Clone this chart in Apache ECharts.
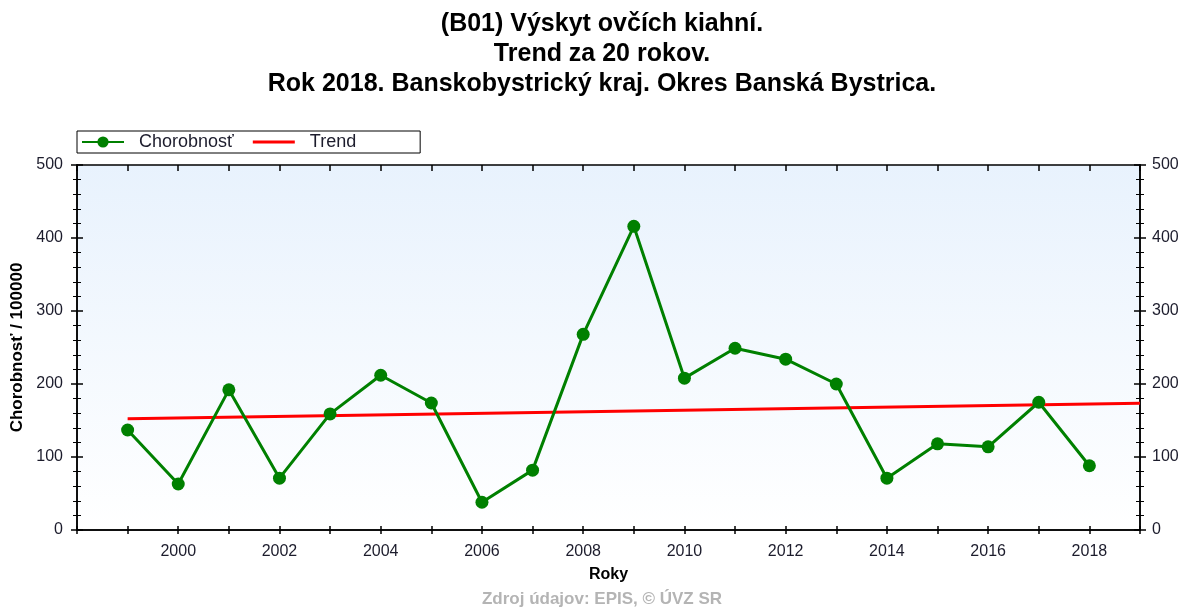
<!DOCTYPE html>
<html>
<head>
<meta charset="utf-8">
<script src="https://cdn.jsdelivr.net/npm/echarts@6/dist/echarts.min.js"></script>
<style>
  html, body { margin: 0; padding: 0; background: #fff; }
  #chart { width: 1182px; height: 609px; }
</style>
</head>
<body>
<div id="chart"></div>
<script>
const years = [1999, 2000, 2001, 2002, 2003, 2004, 2005, 2006, 2007, 2008,
  2009, 2010, 2011, 2012, 2013, 2014, 2015, 2016, 2017, 2018];
const chorobnost = [137, 63, 192, 71, 159, 212, 174, 38, 82, 268,
  416, 208, 249, 234, 200, 71, 118, 114, 175, 88];
// trend line (start and end)
const trendYears = [1999, 2019];
const trendValues = [152.5, 173.5];
const yTicks = [0, 100, 200, 300, 400, 500];

const font = 'Liberation Sans';
const labelColor = '#1c1c2c';

const chart = echarts.init(document.getElementById('chart'));

const yBase = {
  min: yTicks[0],
  max: yTicks[yTicks.length - 1],
  interval: 100,
  splitLine: { show: false },
  minorTick: { show: true, splitNumber: 5, length: 4, lineStyle: { color: '#000' } },
  axisLine: { show: true, lineStyle: { color: '#000', width: 1.5 } },
  axisTick: { show: true, length: 6, lineStyle: { color: '#000', width: 1.5 } },
};
const xBase = {
  type: 'value',
  min: 1998,
  max: 2019,
  interval: 1,
  splitLine: { show: false },
  axisLine: { show: true, onZero: false, lineStyle: { color: '#000', width: 1.5 } },
  axisTick: { show: true, length: 4, lineStyle: { color: '#000', width: 1.5 } },
};

const option = {
  animation: false,
  textStyle: { fontFamily: font },
  title: [
    {
      text: '(B01) Výskyt ovčích kiahní.\nTrend za 20 rokov.\nRok 2018. Banskobystrický kraj. Okres Banská Bystrica.',
      left: 597, top: 4, textAlign: 'center',
      textStyle: { fontFamily: font, fontSize: 25, fontWeight: 'bold', color: '#000', lineHeight: 30 },
    },
    {
      text: 'Zdroj údajov: EPIS, © ÚVZ SR',
      left: 597, top: 586, textAlign: 'center',
      textStyle: { fontFamily: font, fontSize: 17, fontWeight: 'bold', color: '#b4b4b4' },
    },
  ],
  legend: {
    left: 77, top: 131,
    padding: [2, 64, 2, 4],
    borderColor: '#000', borderWidth: 1,
    itemWidth: 42, itemHeight: 14, itemGap: 19,
    textStyle: { fontFamily: font, fontSize: 18, color: labelColor, padding: [0, 0, 0, 10] },
    data: [
      { name: 'Chorobnosť' },
      { name: 'Trend', icon: 'path://M0,0 L42,0 L42,3 L0,3 Z' },
    ],
  },
  grid: {
    left: 77, right: 42, top: 165, bottom: 79,
    show: true, borderWidth: 0,
    backgroundColor: {
      type: 'linear', x: 0, y: 0, x2: 0, y2: 1,
      colorStops: [
        { offset: 0, color: '#e8f2fd' },
        { offset: 1, color: '#ffffff' },
      ],
    },
  },
  xAxis: [
    Object.assign({}, xBase, {
      position: 'bottom',
      name: 'Roky', nameLocation: 'middle', nameGap: 37,
      nameTextStyle: { fontFamily: font, fontSize: 16, fontWeight: 'bold', color: '#000' },
      axisLabel: {
        fontFamily: font, fontSize: 16, color: labelColor, margin: 14,
        formatter: v => (v % 2 === 0 && v !== 1998) ? String(v) : '',
      },
    }),
    Object.assign({}, xBase, {
      position: 'bottom',
      axisLabel: { show: false },
      axisTick: { show: true, inside: true, length: 4, lineStyle: { color: '#000', width: 1.5 } },
    }),
    Object.assign({}, xBase, {
      position: 'top',
      axisLabel: { show: false },
      axisTick: { show: true, inside: true, length: 6, lineStyle: { color: '#000', width: 1.5 } },
    }),
  ],
  yAxis: [
    Object.assign({}, yBase, {
      position: 'left',
      name: 'Chorobnosť / 100000', nameLocation: 'middle', nameGap: 45,
      nameTextStyle: { fontFamily: font, fontSize: 17, fontWeight: 'bold', color: '#000' },
      axisLabel: { fontFamily: font, fontSize: 16, color: labelColor, margin: 14 },
    }),
    Object.assign({}, yBase, {
      position: 'left',
      axisLabel: { show: false },
      axisTick: { show: true, inside: true, length: 6, lineStyle: { color: '#000', width: 1.5 } },
    }),
    Object.assign({}, yBase, {
      position: 'right',
      axisLabel: { fontFamily: font, fontSize: 16, color: labelColor, margin: 12 },
    }),
    Object.assign({}, yBase, {
      position: 'right',
      axisLabel: { show: false },
      axisTick: { show: true, inside: true, length: 6, lineStyle: { color: '#000', width: 1.5 } },
    }),
  ],
  series: [
    {
      name: 'Chorobnosť',
      type: 'line',
      xAxisIndex: 0, yAxisIndex: 0,
      data: years.map((y, i) => [y, chorobnost[i]]),
      symbol: 'circle', symbolSize: 13,
      lineStyle: { color: '#008000', width: 3 },
      itemStyle: { color: '#008000' },
      z: 3,
    },
    {
      name: 'Trend',
      type: 'line',
      xAxisIndex: 0, yAxisIndex: 0,
      data: trendYears.map((y, i) => [y, trendValues[i]]),
      symbol: 'none',
      lineStyle: { color: '#ff0000', width: 3 },
      itemStyle: { color: '#ff0000' },
      z: 2,
    },
  ],
};

chart.setOption(option);
</script>
</body>
</html>
